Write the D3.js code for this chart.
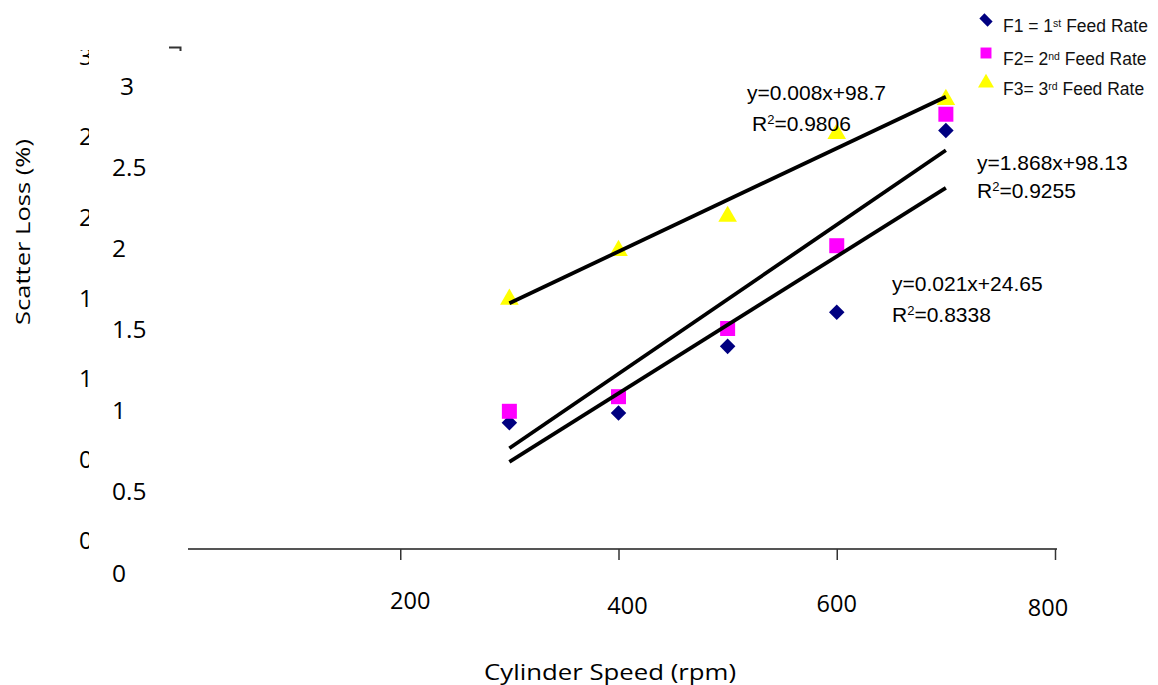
<!DOCTYPE html>
<html><head><meta charset="utf-8">
<script src="https://cdn.jsdelivr.net/npm/d3@7"></script>
<style>body{margin:0;background:#fff}svg{display:block}</style>
</head><body><svg id="c" width="1158" height="685"></svg>
<script>
// ---- data ----
const speeds = [300, 400, 500, 600, 700];
const f1 = [0.92, 0.98, 1.39, 1.60, 2.72];
const f2 = [0.99, 1.08, 1.50, 2.01, 2.82];
const f3 = [1.68, 1.98, 2.19, 2.70, 2.91];
const seriesLabels = [["F1 = 1", "st", " Feed Rate"], ["F2= 2", "nd", " Feed Rate"], ["F3= 3", "rd", " Feed Rate"]];
const yTicks = [0, 0.5, 1, 1.5, 2, 2.5, 3];
const xTicks = [200, 400, 600, 800];
const equations = ["y=0.021x+24.65", "y=1.868x+98.13", "y=0.008x+98.7"];
const r2Values = ["=0.8338", "=0.9255", "=0.9806"];
const xTitle = "Cylinder Speed (rpm)";
const yTitle = "Scatter Loss (%)";

// ---- layout / style ----
const svg = d3.select("#c");
const x = d3.scaleLinear([0, 800], [182, 1055]);
const y = d3.scaleLinear([0, 3], [572, 85]);
const yGhost = d3.scaleLinear([0, 3], [539, 55]);
const axisY = 549;
const colors = ["#000080", "#ff00ff", "#ffff00"];
const shapes = [d3.symbolSquare, d3.symbolSquare, d3.symbolTriangle];
const sizes = [121, 225, 150];
const rot = [45, 0, 0];
const xLabelOffsets = [[10, 51], [9, 56], [0, 54], [-7, 58]];
const eqPos = [[892, 291, 322], [977, 170, 198], [747, 100, 131]];
const eqIndent = [0, 0, 5];
const series = [f1, f2, f3];

// ghost (partly hidden) original tick labels
svg.append("clipPath").attr("id", "gc").append("rect")
  .attr("x", 0).attr("y", 50).attr("width", 89).attr("height", 560);
svg.append("g").attr("clip-path", "url(#gc)")
  .selectAll("text").data(yTicks).join("text")
  .attr("x", 79).attr("y", d => yGhost(d))
  .attr("dominant-baseline", "central")
  .attr("font-family", "Open Sans, sans-serif").attr("font-size", 24).attr("fill", "#000")
  .text(d => d);

// small stray axis corner
svg.append("path").attr("d", "M169,47.5H180.5V51").attr("fill", "none")
  .attr("stroke", "#333").attr("stroke-width", 2);

// visible y tick labels
svg.append("g").selectAll("text").data(yTicks).join("text")
  .attr("x", d => d === 3 ? 120 : 112).attr("y", d => y(d))
  .attr("dominant-baseline", "central")
  .attr("font-family", "Open Sans, sans-serif").attr("font-size", 24.5).attr("fill", "#000")
  .text(d => d);

// x axis
const xa = svg.append("g").attr("transform", `translate(0,${axisY})`)
  .call(d3.axisBottom(x).tickValues(xTicks).tickSize(11).tickSizeOuter(0).tickFormat(""));
xa.select(".domain").attr("stroke", "#555").attr("stroke-width", 2.2)
  .attr("d", `M188,0H${x(800) + 2}`);
xa.selectAll(".tick line").attr("stroke", "#333").attr("stroke-width", 1.5);

svg.append("g").selectAll("text").data(xTicks).join("text")
  .attr("x", (d, i) => x(d) + xLabelOffsets[i][0]).attr("y", (d, i) => axisY + xLabelOffsets[i][1])
  .attr("text-anchor", "middle").attr("dominant-baseline", "central")
  .attr("font-family", "Open Sans, sans-serif").attr("font-size", 23.5).attr("fill", "#000")
  .text(d => d);

// axis titles
svg.append("text").attr("x", 610).attr("y", 672).attr("text-anchor", "middle")
  .attr("dominant-baseline", "central")
  .attr("font-family", "Open Sans, sans-serif").attr("font-size", 21)
  .attr("textLength", 252).attr("lengthAdjust", "spacingAndGlyphs").text(xTitle);
svg.append("text").attr("transform", "translate(22,232) rotate(-90)").attr("text-anchor", "middle")
  .attr("dominant-baseline", "central")
  .attr("font-family", "Open Sans, sans-serif").attr("font-size", 20)
  .attr("textLength", 186).attr("lengthAdjust", "spacingAndGlyphs").text(yTitle);

// markers
series.forEach((vals, si) => {
  svg.append("g").selectAll("path").data(vals).join("path")
    .attr("d", d3.symbol(shapes[si], sizes[si]))
    .attr("transform", (d, i) => `translate(${x(speeds[i])},${y(d)}) rotate(${rot[si]})`)
    .attr("fill", colors[si]);
});

// linear trend lines (least squares on the series)
function fit(vals) {
  const mx = d3.mean(speeds), my = d3.mean(vals);
  const b = d3.sum(speeds, (s, i) => (s - mx) * (vals[i] - my)) / d3.sum(speeds, s => (s - mx) ** 2);
  return s => my + b * (s - mx);
}
const xs = [d3.min(speeds), d3.max(speeds)];
series.forEach(vals => {
  const f = fit(vals);
  svg.append("path").datum(xs)
    .attr("d", d3.line(s => x(s), s => y(f(s))))
    .attr("stroke", "#000").attr("stroke-width", 3.8).attr("fill", "none");
});

// equations
equations.forEach((eq, i) => {
  const [ex, ey1, ey2] = eqPos[i];
  svg.append("text").attr("x", ex).attr("y", ey1)
    .attr("font-family", "Liberation Sans, Arial, sans-serif").attr("font-size", 21).text(eq);
  const t = svg.append("text").attr("x", ex + eqIndent[i]).attr("y", ey2)
    .attr("font-family", "Liberation Sans, Arial, sans-serif").attr("font-size", 21);
  t.append("tspan").text("R");
  t.append("tspan").attr("font-size", 13).attr("dy", -7).text("2");
  t.append("tspan").attr("dy", 7).text(r2Values[i]);
});

// legend
const legY = [32, 65, 95];
seriesLabels.forEach((lab, i) => {
  svg.append("path").attr("d", d3.symbol(shapes[i], i === 1 ? 120 : (i === 0 ? 80 : 110)))
    .attr("transform", `translate(986,${legY[i] - 12}) rotate(${rot[i]})` + (i === 0 ? " scale(1.3,0.8)" : ""))
    .attr("fill", colors[i]);
  const t = svg.append("text").attr("x", 1003).attr("y", legY[i])
    .attr("font-family", "Liberation Sans Narrow, Arial Narrow, sans-serif").attr("font-size", 17.5).attr("fill", "#111");
  t.append("tspan").text(lab[0]);
  t.append("tspan").attr("font-size", 10.5).attr("dy", -5).text(lab[1]);
  t.append("tspan").attr("dy", 5).text(lab[2]);
});
</script></body></html>
